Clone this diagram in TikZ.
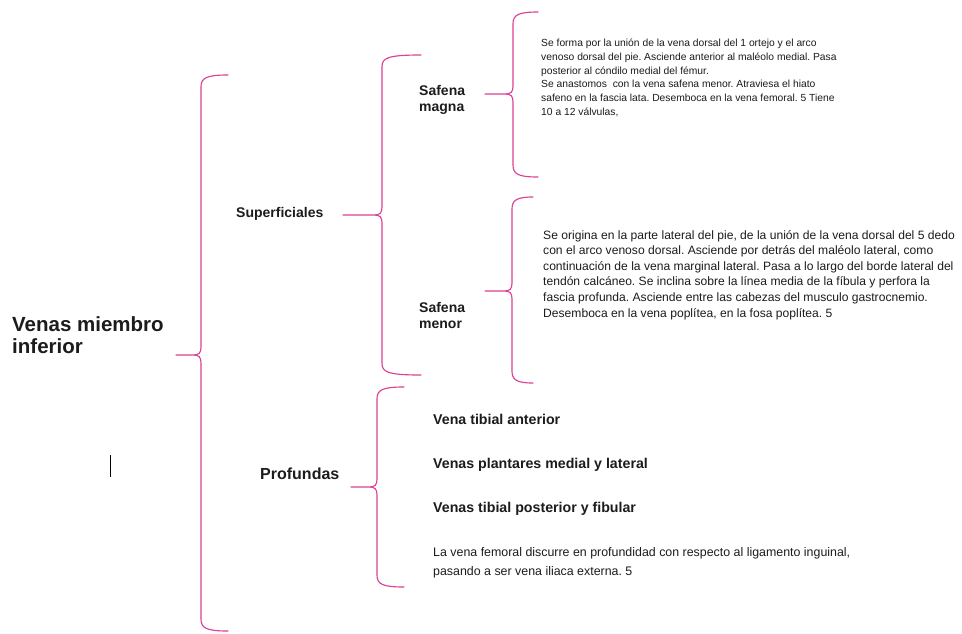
\documentclass[tikz,border=0pt]{standalone}
\usepackage{fontspec}
\setmainfont{Liberation Sans}
\frenchspacing
\definecolor{bracecol}{RGB}{220,66,150}
\definecolor{ink}{RGB}{28,28,28}

% curly brace opening to the right:
% #1 tip x, #2 tip y, #3 spine x, #4 end x, #5 top y, #6 bottom y
\newcommand\rightbrace[6]{%
  \draw[bracepen]
    (#4,#5) .. controls (#3+5,#5) and (#3,#5+3) .. (#3,#5+12)
    -- (#3,#2-8) .. controls (#3,#2-2) and (#3-2,#2) .. (#3-8,#2)
    -- (#1,#2) -- (#3-8,#2)
    .. controls (#3-2,#2) and (#3,#2+2) .. (#3,#2+8)
    -- (#3,#6-12) .. controls (#3,#6-3) and (#3+5,#6) .. (#4,#6);}

\begin{document}
\begin{tikzpicture}[x=1pt,y=-1pt,
  bracepen/.style={draw=bracecol,line width=1.15pt,line cap=round,line join=round},
  lbl/.style={inner sep=0pt,text=ink,align=left,font=\bfseries},
  prose/.style={inner sep=0pt,text=ink,align=left,anchor=north west}]
\useasboundingbox[fill=white] (0,0) rectangle (962,633);

% labels of the hierarchy
\node[lbl,anchor=north west,font=\bfseries\fontsize{20.5}{22}\selectfont] (title) at (12,316) {Venas miembro\\inferior};
\node[lbl,anchor=west,font=\bfseries\fontsize{14}{16}\selectfont] (sup) at (236,214) {Superficiales};
\node[lbl,anchor=west,font=\bfseries\fontsize{16}{18}\selectfont] (prof) at (260,474) {Profundas};
\node[lbl,anchor=west,font=\bfseries\fontsize{14}{16}\selectfont] (magna) at (419,100) {Safena\\magna};
\node[lbl,anchor=west,font=\bfseries\fontsize{14}{16}\selectfont] (menor) at (419,315) {Safena\\menor};

% descriptions of the saphenous veins
\node[prose,font=\fontsize{10.3}{13.9}\selectfont] (magnatxt) at (541,38.5) {Se forma por la unión de la vena dorsal del 1 ortejo y el arco\\
venoso dorsal del pie. Asciende anterior al maléolo medial. Pasa\\
posterior al cóndilo medial del fémur.\\
Se anastomos\ \ con la vena safena menor. Atraviesa el hiato\\
safeno en la fascia lata. Desemboca en la vena femoral. 5 Tiene\\
10 a 12 válvulas,};
\node[prose,font=\fontsize{12.1}{15.6}\selectfont] (menortxt) at (543,230) {Se origina en la parte lateral del pie, de la unión de la vena dorsal del 5 dedo\\
con el arco venoso dorsal. Asciende por detrás del maléolo lateral, como\\
continuación de la vena marginal lateral. Pasa a lo largo del borde lateral del\\
tendón calcáneo. Se inclina sobre la línea media de la fíbula y perfora la\\
fascia profunda. Asciende entre las cabezas del musculo gastrocnemio.\\
Desemboca en la vena poplítea, en la fosa poplítea. 5};

% deep veins
\node[lbl,anchor=west,font=\bfseries\fontsize{14.2}{16}\selectfont] (tibant) at (433,419) {Vena tibial anterior};
\node[lbl,anchor=west,font=\bfseries\fontsize{14.2}{16}\selectfont] (plant) at (433,465) {Venas plantares medial y lateral};
\node[lbl,anchor=west,font=\bfseries\fontsize{14.2}{16}\selectfont] (tibpost) at (433,509) {Venas tibial posterior y fibular};
\node[lbl,anchor=west,font=\fontsize{12.4}{19}\selectfont] (femoral) at (433,562.5) {La vena femoral discurre en profundidad con respecto al ligamento inguinal,\\
pasando a ser vena iliaca externa. 5};

% text cursor
\draw[black,line width=1pt] (110,455) -- (110,477);

% braces
\rightbrace{176}{355}{201}{228}{75}{631}
\rightbrace{343}{215}{382}{421}{55}{375}
\rightbrace{351}{487}{377}{404}{387}{587}
\rightbrace{485}{94}{513}{538}{12}{177}
\rightbrace{485}{291}{512}{533}{197}{383}
\end{tikzpicture}
\end{document}
